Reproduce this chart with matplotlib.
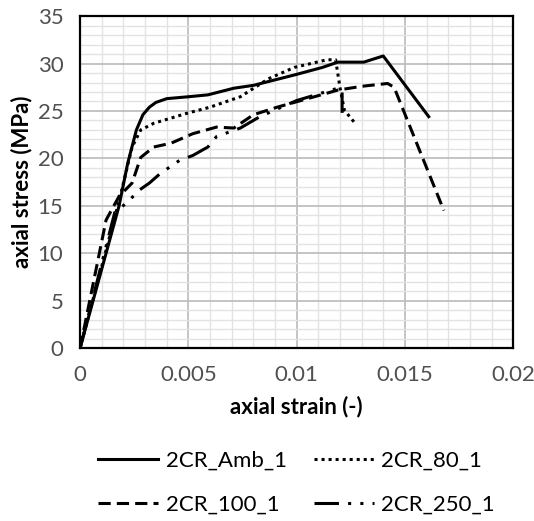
import numpy as np
import matplotlib.pyplot as plt
from matplotlib.ticker import MultipleLocator

plt.rcParams['font.family'] = ['Lato', 'DejaVu Sans']

# 2CR_Amb_1 (solid)
amb_strain = [0, 0.0018, 0.0022, 0.0026, 0.0029, 0.0032, 0.0035, 0.0040, 0.0050, 0.0059, 0.0071, 0.0080,
              0.0099, 0.0112, 0.0119, 0.0131, 0.0140, 0.0161]
amb_stress = [0, 15.0, 19.5, 23.0, 24.6, 25.4, 25.9, 26.3, 26.5, 26.7, 27.4, 27.7,
              28.8, 29.6, 30.15, 30.15, 30.8, 24.4]

# 2CR_80_1 (dotted)
t80_strain = [0, 0.0018, 0.0024, 0.0028, 0.0034, 0.0050, 0.0060, 0.0074, 0.0087, 0.0099,
              0.0114, 0.0118, 0.0120, 0.0122, 0.0127]
t80_stress = [0, 15.5, 21.2, 23.0, 23.7, 24.8, 25.4, 26.5, 28.4, 29.6,
              30.4, 30.4, 27.5, 25.1, 23.7]

# 2CR_100_1 (dashed)
t100_strain = [0, 0.0012, 0.0018, 0.0024, 0.0028, 0.0034, 0.0042, 0.0052, 0.0063, 0.0071,
               0.0080, 0.0091, 0.0102, 0.0119, 0.0130, 0.0142, 0.0145, 0.0168]
t100_stress = [0, 13.5, 16.0, 17.4, 20.1, 21.2, 21.6, 22.6, 23.3, 23.2,
               24.6, 25.4, 26.1, 27.2, 27.6, 27.9, 27.5, 14.5]

# 2CR_250_1 (dash-dot-dot)
t250_strain = [0, 0.0016, 0.0022, 0.0027, 0.0032, 0.0037, 0.0046, 0.0052, 0.0059, 0.0063,
               0.0074, 0.0083, 0.0100, 0.0119, 0.0121, 0.0121]
t250_stress = [0, 14.3, 15.4, 16.6, 17.4, 18.4, 19.8, 20.3, 21.2, 22.3,
               23.2, 24.4, 26.1, 27.4, 27.2, 24.8]

fig = plt.figure(figsize=(5.34, 5.21), dpi=100)
ax = fig.add_axes([0.15, 0.332, 0.811, 0.637])

l_amb, = ax.plot(amb_strain, amb_stress, color='black', lw=2.2, label='2CR_Amb_1')
l_80, = ax.plot(t80_strain, t80_stress, color='black', lw=2.2, linestyle=(0, (1, 1.3)), label='2CR_80_1')
l_100, = ax.plot(t100_strain, t100_stress, color='black', lw=2.2, linestyle=(0, (4, 2)), label='2CR_100_1')
l_250, = ax.plot(t250_strain, t250_stress, color='black', lw=2.2,
                 linestyle=(0, (8, 3, 1, 3, 1, 3)), label='2CR_250_1')

ax.set_xlim(0, 0.02)
ax.set_ylim(0, 35)
ax.xaxis.set_minor_locator(MultipleLocator(0.001))
ax.yaxis.set_major_locator(MultipleLocator(5))
ax.yaxis.set_minor_locator(MultipleLocator(1))
ax.set_xticks([0, 0.005, 0.01, 0.015, 0.02])
ax.set_xticklabels(['0', '0.005', '0.01', '0.015', '0.02'])
ax.grid(which='major', color='#bfbfbf', lw=1.3)
ax.grid(which='minor', color='#e3e3e3', lw=1.0)
ax.set_axisbelow(True)
ax.tick_params(which='both', length=0, labelsize=16, labelcolor='#505050')
ax.tick_params(axis='x', pad=12)
ax.tick_params(axis='y', pad=12)
for s in ax.spines.values():
    s.set_linewidth(1.6)
    s.set_color('black')

ax.set_xlabel('axial strain (-)', fontsize=16, fontweight='bold', labelpad=8)
ax.set_ylabel('axial stress (MPa)', fontsize=16, fontweight='bold', labelpad=4)

ax.legend([l_amb, l_100, l_80, l_250], ['2CR_Amb_1', '2CR_100_1', '2CR_80_1', '2CR_250_1'],
          loc='upper center', bbox_to_anchor=(0.50, -0.25), ncol=2, frameon=False,
          fontsize=16, handlelength=2.7, handletextpad=0.35, columnspacing=1.2,
          labelspacing=1.08)

fig.savefig('out.png', dpi=100)
